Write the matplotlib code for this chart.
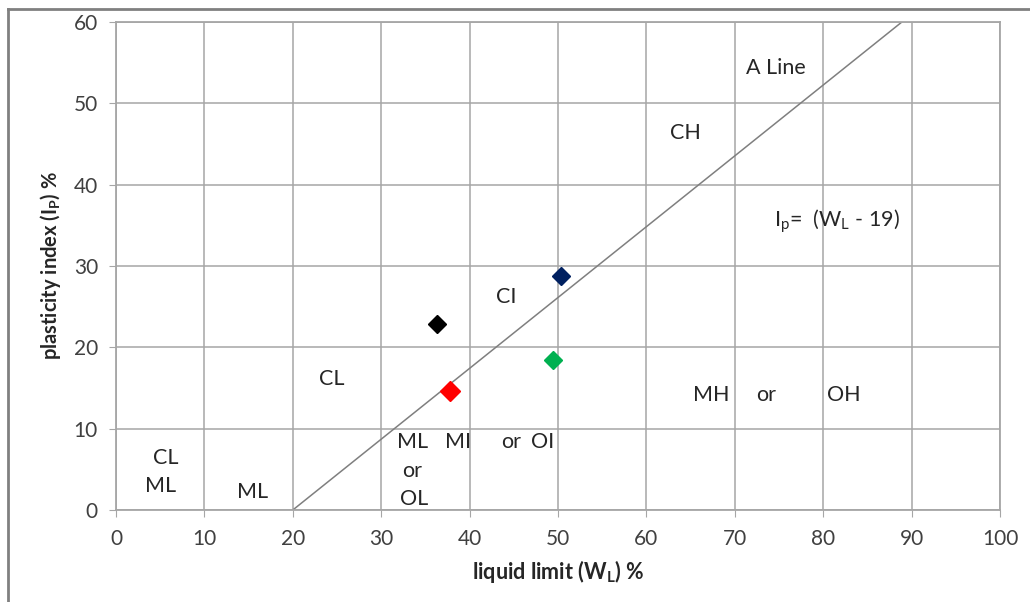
import matplotlib
matplotlib.use("Agg")
import matplotlib.pyplot as plt
from matplotlib.lines import Line2D

plt.rcParams['font.family'] = ['Lato', 'DejaVu Sans']
plt.rcParams['mathtext.default'] = 'regular'

# Data
wl_points = [36.3, 50.3, 37.8, 49.4]
ip_points = [22.9, 28.8, 14.6, 18.4]
point_colors = ['#000000', '#002060', '#ff0000', '#00b050']
point_sizes = [9, 9, 10.5, 9]

a_line_wl = [20, 88.9]
a_line_ip = [0, 60]

x_ticks = [0, 10, 20, 30, 40, 50, 60, 70, 80, 90, 100]
y_ticks = [0, 10, 20, 30, 40, 50, 60]

zone_labels = [
    ("A Line", 74.7, 54.4, 'center'),
    ("CH", 64.4, 46.3, 'center'),
    ("I$_\\mathregular{p}$=  (W$_\\mathregular{L}$ - 19)", 74.4, 35.5, 'left'),
    ("CI", 44.1, 26.2, 'center'),
    ("CL", 24.4, 16.1, 'center'),
    ("CL", 5.6, 6.4, 'center'),
    ("ML", 5.0, 2.95, 'center'),
    ("ML", 15.5, 2.25, 'center'),
    ("ML", 33.6, 8.3, 'center'),
    ("MI", 38.7, 8.3, 'center'),
    ("or", 44.7, 8.3, 'center'),
    ("OI", 48.3, 8.3, 'center'),
    ("or", 33.5, 4.8, 'center'),
    ("OL", 33.7, 1.3, 'center'),
    ("MH", 67.3, 14.2, 'center'),
    ("or", 73.6, 14.2, 'center'),
    ("OH", 82.3, 14.2, 'center'),
]

fig = plt.figure(figsize=(10.3, 6.02), dpi=100)
ax = fig.add_axes([116/1030, 1-510/602, 884/1030, 488/602])

grid_color = '#a6a6a6'
ax.set_xlim(0, 100)
ax.set_ylim(0, 60)
ax.set_xticks(x_ticks)
ax.set_yticks(y_ticks)
ax.grid(True, color=grid_color, linewidth=1.1)
ax.set_axisbelow(True)
for s in ax.spines.values():
    s.set_color(grid_color)
    s.set_linewidth(1.3)
ax.tick_params(axis='both', direction='out', length=5, color=grid_color,
               labelsize=15, labelcolor='#404040')
ax.tick_params(axis='x', pad=9)
ax.tick_params(axis='y', pad=8)

ax.plot(a_line_wl, a_line_ip, color='#7f7f7f', linewidth=1.1)

for x, y, c, s in zip(wl_points, ip_points, point_colors, point_sizes):
    ax.plot([x], [y], marker='D', color=c, markersize=s, linestyle='none')

for txt, x, y, ha in zone_labels:
    ax.text(x, y, txt, ha=ha, va='center', fontsize=15.5, color='#262626')

ax.set_xlabel("liquid limit (W$_\\mathregular{L}$) %", fontsize=15.5, fontweight='bold',
              color='#262626', labelpad=6)
ax.set_ylabel("plasticity index (I$_\\mathregular{P}$) %", fontsize=14.5, fontweight='bold',
              color='#262626', labelpad=8)

# outer frame (left and top edges visible)
fig.add_artist(Line2D([8/1030, 8/1030], [0, 1-9/602], transform=fig.transFigure,
                      color='#808080', linewidth=2))
fig.add_artist(Line2D([8/1030, 1], [1-9/602, 1-9/602], transform=fig.transFigure,
                      color='#808080', linewidth=2))

fig.savefig("out.png", dpi=100)
